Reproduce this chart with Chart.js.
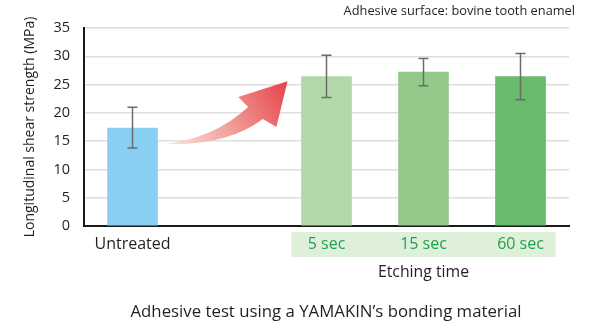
<!DOCTYPE html>
<html>
<head>
<meta charset="utf-8">
<title>Adhesive test</title>
<script src="https://cdn.jsdelivr.net/npm/chart.js@4.4.1/dist/chart.umd.min.js"></script>
<style>
  html, body { margin: 0; padding: 0; background: #fff; }
  #wrap { position: relative; width: 600px; height: 325px; }
</style>
</head>
<body>
<div id="wrap"><canvas id="myChart"></canvas></div>
<script>
/* data */
const categories = ['Untreated', '', '5 sec', '15 sec', '60 sec'];
const strength = [17.3, null, 26.4, 27.2, 26.4];
const errorLow = [13.8, null, 22.7, 24.8, 22.3];
const errorHigh = [21.0, null, 30.2, 29.6, 30.5];
const yTicks = [0, 5, 10, 15, 20, 25, 30, 35];

const barColors = ['#89cff3', '#ffffff', '#b2d8aa', '#93ca8a', '#69ba6b'];
const fontName = '"Open Sans", "Noto Sans", sans-serif';
const darkText = '#231f20';
const greenText = '#21a04b';

// light green band behind the etching time labels
const labelBand = {
  id: 'labelBand',
  beforeDraw(chart) {
    const ctx = chart.ctx;
    const x = chart.scales.x;
    const left = x.getPixelForTick(2) - 35;
    const right = x.getPixelForTick(4) + 35;
    ctx.save();
    ctx.fillStyle = '#dff0da';
    ctx.fillRect(left, x.top + 6, right - left, 25);
    ctx.restore();
  }
};

const errorBars = {
  id: 'errorBars',
  afterDatasetsDraw(chart) {
    const ctx = chart.ctx;
    const y = chart.scales.y;
    const meta = chart.getDatasetMeta(0);
    ctx.save();
    ctx.strokeStyle = '#6b6b6b';
    ctx.lineWidth = 1.5;
    meta.data.forEach(function(bar, i){
      if (strength[i] == null) return;
      const top = y.getPixelForValue(errorHigh[i]);
      const bottom = y.getPixelForValue(errorLow[i]);
      ctx.beginPath();
      ctx.moveTo(bar.x, top);
      ctx.lineTo(bar.x, bottom);
      ctx.moveTo(bar.x - 5, top);
      ctx.lineTo(bar.x + 5, top);
      ctx.moveTo(bar.x - 5, bottom);
      ctx.lineTo(bar.x + 5, bottom);
      ctx.stroke();
    });
    ctx.restore();
  }
};

// curved red arrow from the untreated bar to the etched bars
const arrow = {
  id: 'arrow',
  afterDatasetsDraw(chart) {
    const ctx = chart.ctx;
    const x = chart.scales.x;
    const y = chart.scales.y;
    const tail = { x: x.getPixelForTick(0) + 33, y: y.getPixelForValue(14.5) };
    const tip = { x: x.getPixelForTick(2) - 39, y: y.getPixelForValue(25.6) };
    const sx = (tip.x - tail.x) / 99;
    const sy = (tail.y - tip.y) / 63;
    const p = function(dx, dy){ return [tail.x + dx * sx, tail.y + dy * sy]; };
    const grad = ctx.createLinearGradient(tail.x, tail.y, tip.x, tip.y);
    grad.addColorStop(0, '#fbe3de');
    grad.addColorStop(0.45, '#f2a29c');
    grad.addColorStop(1, '#e6434c');
    ctx.save();
    ctx.fillStyle = grad;
    ctx.beginPath();
    ctx.moveTo(...p(0, 0));
    ctx.quadraticCurveTo(...p(40, -6), ...p(67, -37));
    ctx.lineTo(...p(59, -47));
    ctx.lineTo(...p(99, -63));
    ctx.lineTo(...p(90, -17));
    ctx.lineTo(...p(79, -25));
    ctx.quadraticCurveTo(...p(50, 2), ...p(0, 0));
    ctx.closePath();
    ctx.fill();
    ctx.restore();
  }
};

const texts = {
  id: 'texts',
  afterDraw(chart) {
    const ctx = chart.ctx;
    const x = chart.scales.x;
    ctx.save();
    ctx.fillStyle = darkText;
    ctx.textBaseline = 'middle';
    ctx.textAlign = 'right';
    ctx.font = '12.8px ' + fontName;
    ctx.fillText('Adhesive surface: bovine tooth enamel', 575, 11);
    ctx.textAlign = 'center';
    ctx.font = '15.8px ' + fontName;
    ctx.fillText('Etching time', x.getPixelForTick(3), 272);
    ctx.font = '16.8px ' + fontName;
    ctx.fillText('Adhesive test using a YAMAKIN\u2019s bonding material', 326, 312);
    ctx.restore();
  }
};

const ctx = document.getElementById('myChart').getContext('2d');
// eslint-disable-next-line no-undef
const chart = new Chart(ctx, {
  type: 'bar',
  data: {
    labels: categories,
    datasets: [{
      data: strength,
      backgroundColor: barColors,
      borderWidth: 0,
      barThickness: 50,
    }]
  },
  options: {
    responsive: true,
    maintainAspectRatio: false,
    animation: false,
    layout: { padding: { left: 0, top: 28, right: 31, bottom: 0 } },
    plugins: {
      legend: { display: false },
      tooltip: { enabled: false },
    },
    scales: {
      x: {
        grid: { display: false, drawTicks: false },
        border: { display: true, color: '#1a1a1a', width: 2 },
        ticks: {
          padding: 9,
          font: { family: fontName, size: 16 },
          color: function(c){ return c.index === 0 ? darkText : greenText; },
          maxRotation: 0,
        },
        afterFit: function(scale){ scale.height = 99; },
      },
      y: {
        min: yTicks[0],
        max: yTicks[yTicks.length - 1],
        grid: {
          color: function(c){ return c.tick.value === 0 ? 'rgba(0,0,0,0)' : '#dedede'; },
          lineWidth: 1.5,
          drawTicks: false,
        },
        border: { display: true, color: '#1a1a1a', width: 2 },
        ticks: {
          stepSize: yTicks[1] - yTicks[0],
          padding: 14,
          font: { family: fontName, size: 14.5 },
          color: darkText,
        },
        title: {
          display: true,
          text: 'Longitudinal shear strength (MPa)',
          font: { family: fontName, size: 14 },
          color: darkText,
          padding: { top: 22, bottom: 0 },
        },
        afterFit: function(scale){ scale.width = 84; },
      }
    }
  },
  plugins: [labelBand, errorBars, arrow, texts]
});
</script>
</body>
</html>
